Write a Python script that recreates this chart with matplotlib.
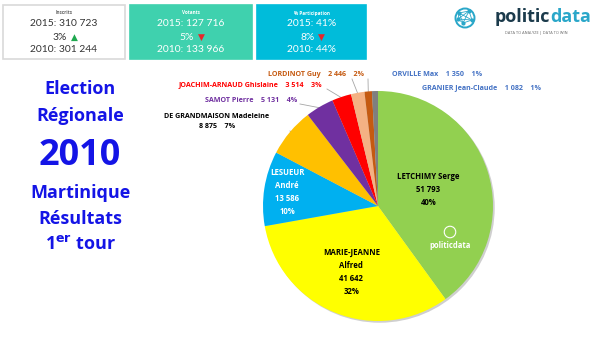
import numpy as np
import matplotlib.pyplot as plt
from matplotlib.patches import Rectangle, Circle

plt.rcParams['font.family'] = ['Open Sans', 'DejaVu Sans']

W, H = 600, 337

# --- data -------------------------------------------------------------
candidats = ['LETCHIMY Serge', 'MARIE-JEANNE Alfred', 'LESUEUR André',
             'DE GRANDMAISON Madeleine', 'SAMOT Pierre',
             'JOACHIM-ARNAUD Ghislaine', 'LORDINOT Guy', 'ORVILLE Max',
             'GRANIER Jean-Claude']
voix = [51793, 41642, 13586, 8875, 5131, 3514, 2446, 1350, 1082]
couleurs = ['#92D050', '#FFFF00', '#00B0F0', '#FFC000', '#7030A0',
            '#FF0000', '#F4B183', '#C55A11', '#7F7F7F']

cartes = ['Inscrits', 'Votants', '% Participation']
val_2015 = ['310 723', '127 716', '41%']
val_2010 = ['301 244', '133 966', '44%']
evolution = ['3%', '5%', '8%']
hausse = [True, False, False]


def fmt(n):
    return f'{n:,}'.replace(',', ' ')


total = sum(voix)
pcts = [round(v / total * 100) for v in voix]

fig = plt.figure(figsize=(6, 3.37), dpi=100)
bg = fig.add_axes([0, 0, 1, 1])
bg.set_xlim(0, W)
bg.set_ylim(H, 0)
bg.axis('off')

# --- top cards ----------------------------------------------------------
card_x = [3, 130, 257]
card_w = [122, 122, 109]
card_fc = ['white', '#3FD1AE', '#00BCDA']
card_tc = ['#333333', 'white', 'white']
for i in range(3):
    bg.add_patch(Rectangle((card_x[i], 5), card_w[i], 54, fc=card_fc[i],
                           ec='#D9D9D9' if i == 0 else card_fc[i], lw=1.2))
    x0 = card_x[i] + card_w[i] / 2
    tc = card_tc[i]
    bg.text(x0, 13, cartes[i], ha='center', va='center', fontsize=3.3,
            fontweight='bold', color='#666666' if i == 0 else 'white')
    bg.text(x0, 24, f'2015: {val_2015[i]}', ha='center', va='center',
            fontsize=7.4, family='Lato', color=tc)
    bg.text(x0 - 4, 37, evolution[i], ha='center', va='center',
            fontsize=7.4, family='Lato', color=tc)
    bg.text(x0 + 10, 37, '▲' if hausse[i] else '▼', ha='center',
            va='center', fontsize=6.5, family='DejaVu Sans',
            color='#1FA84F' if hausse[i] else '#E8262A')
    bg.text(x0, 50, f'2010: {val_2010[i]}', ha='center', va='center',
            fontsize=7.4, family='Lato', color=tc)

# --- logo -----------------------------------------------------------------
teal = '#2AA7C9'
navy = '#1B3A4B'
bg.add_patch(Circle((465, 18), 9.5, fill=False, ec=teal, lw=1.4))
nodes = np.array([[459, 13], [469, 11], [472, 20], [463, 23], [458, 19]])
for a in range(len(nodes)):
    for b in range(a + 1, len(nodes)):
        bg.plot(*zip(nodes[a], nodes[b]), color=teal, lw=0.6)
bg.scatter(nodes[:, 0], nodes[:, 1], s=4, color=teal, zorder=3)
bg.text(550, 17, 'politic', ha='right', va='center', fontsize=13,
        fontweight='bold', color=navy)
bg.text(550, 17, 'data', ha='left', va='center', fontsize=13,
        fontweight='bold', color=teal)
bg.text(536, 33, 'DATA TO ANALYZE | DATA TO WIN', ha='center', va='center',
        fontsize=2.8, color='#666666')

# --- title ------------------------------------------------------------------
blue = '#1414E6'
title_kw = dict(ha='center', va='center', fontweight='bold', color=blue)
bg.text(80, 89, 'Election', fontsize=13, **title_kw)
bg.text(80, 116, 'Régionale', fontsize=13, **title_kw)
bg.text(80, 156, '2010', fontsize=26, **title_kw)
bg.text(80, 193, 'Martinique', fontsize=13, **title_kw)
bg.text(80, 219, 'Résultats', fontsize=13, **title_kw)
bg.text(80, 245, r'1$^{\mathbf{er}}$ tour', fontsize=13, **title_kw)

# --- pie --------------------------------------------------------------------
cx, cy, R = 378, 206, 115
ax = fig.add_axes([(cx - R * 1.03) / W, (H - cy - R * 1.03) / H,
                   2.06 * R / W, 2.06 * R / H])
# soft drop shadow like the Excel chart
ax.add_patch(Circle((0.015, -0.015), 1.0, fc='#CFCFCF', ec='none', zorder=0))
wedges, _ = ax.pie(voix, colors=couleurs, startangle=90, counterclock=False,
                   radius=1, wedgeprops=dict(linewidth=0, zorder=1))
ax.set_xlim(-1.03, 1.03)
ax.set_ylim(-1.03, 1.03)
ax.set_aspect('equal')
ax.axis('off')

mid = [np.deg2rad((w.theta1 + w.theta2) / 2) for w in wedges]

# labels inside the three large slices
inner_r = [0.46, 0.62, 0.80]
inner_txt = ['LETCHIMY Serge', 'MARIE-JEANNE\nAlfred', 'LESUEUR\nAndré']
inner_col = ['black', 'black', 'white']
for i in range(3):
    ax.text(inner_r[i] * np.cos(mid[i]), inner_r[i] * np.sin(mid[i]),
            f'{inner_txt[i]}\n{fmt(voix[i])}\n{pcts[i]}%', ha='center',
            va='center', fontsize=5.6, fontweight='bold', color=inner_col[i],
            linespacing=1.55, zorder=3)

# watermark in the green slice
ax.add_patch(Circle(((450 - cx) / R, (cy - 232) / R), 0.05, fill=False,
                    ec='white', lw=0.8, zorder=3))
ax.text((450 - cx) / R, (cy - 245) / R, 'politicdata', ha='center',
        va='center', fontsize=5.5, fontweight='bold', color='white', zorder=3)

# outside labels: (pixel x, pixel y, ha, colour)
outer = {
    3: (217, 121, 'center', 'black'),
    4: (205, 101, 'left', '#7030A0'),
    5: (179, 85, 'left', '#FF0000'),
    6: (268, 74, 'left', '#C55A11'),
    7: (392, 75, 'left', '#4472C4'),
    8: (422, 88, 'left', '#4472C4'),
}
line_end = {3: (290, 131), 4: (300, 104), 5: (327, 89), 6: (352, 79),
            7: (368, 79)}
for i, (px, py, ha, col) in outer.items():
    if i == 3:
        txt = f'{candidats[i]}\n{fmt(voix[i])}    {pcts[i]}%'
    else:
        txt = f'{candidats[i]}    {fmt(voix[i])}    {pcts[i]}%'
    bg.text(px, py, txt, ha=ha, va='center', fontsize=5.1,
            fontweight='bold', color=col, linespacing=1.6)
    if i in line_end:
        r = 0.93 if i == 3 else 0.99
        sx = cx + r * R * np.cos(mid[i])
        sy = cy - r * R * np.sin(mid[i])
        lx, ly = line_end[i]
        bg.plot([lx, sx], [ly, sy], color='#A6A6A6', lw=0.6)

fig.savefig('out.png', dpi=100)
